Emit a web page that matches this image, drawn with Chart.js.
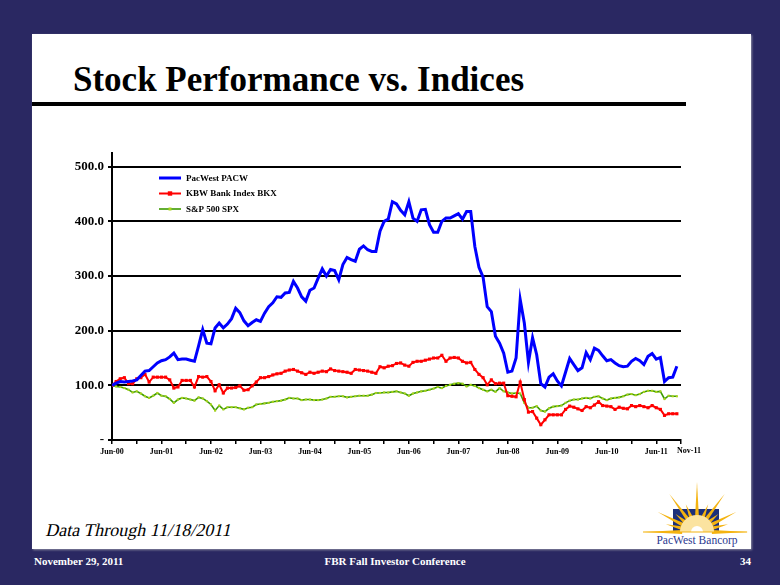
<!DOCTYPE html>
<html>
<head>
<meta charset="utf-8">
<title>Stock Performance vs. Indices</title>
<script src="https://cdn.jsdelivr.net/npm/chart.js@4.4.2/dist/chart.umd.min.js"></script>
<style>
    html, body { margin: 0; padding: 0; }
    body {
        width: 780px; height: 585px; overflow: hidden; position: relative;
        background: #2a2862; font-family: "Liberation Serif", "Times New Roman", serif;
    }
    #panel {
        position: absolute; left: 32px; top: 34px; width: 719px; height: 515px;
        background: #fff; box-shadow: 1px 1px 2px #8a8aa0;
    }
    #title {
        position: absolute; left: 73px; top: 60px; margin: 0;
        font-size: 35px; font-weight: bold; color: #000; white-space: nowrap;
    }
    #rule { position: absolute; left: 32px; top: 102px; width: 654px; height: 4px; background: #000; }
    #through {
        position: absolute; left: 44px; top: 520px;
        font-family: "Liberation Serif", serif; font-size: 18px; font-style: normal;
        transform: skewX(-13deg); transform-origin: left bottom;
        color: #000; white-space: nowrap;
    }
    .foot { position: absolute; top: 555px; font-size: 11px; font-weight: bold; color: #fff; white-space: nowrap; }
    #logo { position: absolute; left: 636px; top: 476px; }
    #chart { position: absolute; left: 0; top: 0; }
</style>
</head>
<body>
<div id="panel"></div>
<h1 id="title">Stock Performance vs. Indices</h1>
<div id="rule"></div>
<div id="through">Data Through 11/18/2011</div>
<div class="foot" style="left:34px">November 29, 2011</div>
<div class="foot" style="left:395px;transform:translateX(-50%)">FBR Fall Investor Conference</div>
<div class="foot" style="left:740px">34</div>
<svg id="logo" width="114" height="72" viewBox="0 0 114 72"></svg>
<canvas id="chart" width="780" height="585"></canvas>

<script>
// Monthly values, indexed from Jun-00 (0) to Nov-11 (137), rebased to 100
const pacw = [
    100, 104, 107, 106, 107, 108, 110, 118, 126, 127, 134, 141,
    145, 147, 152, 159, 147, 148, 148, 146, 144, 172, 202, 177,
    176, 205, 214, 205, 212, 222, 241, 233, 218, 209, 215, 220,
    217, 232, 244, 251, 262, 261, 269, 270, 290, 278, 262, 254,
    274, 278, 296, 313, 300, 312, 310, 293, 321, 334, 330, 327,
    349, 355, 348, 345, 345, 382, 400, 404, 436, 432, 420, 412,
    436, 406, 400, 421, 422, 394, 380, 380, 400, 406, 406, 410,
    414, 404, 418, 418, 354, 316, 298, 244, 235, 190, 177, 159,
    124, 126, 150, 257, 214, 142, 187, 156, 103, 97, 115, 121,
    108, 99, 124, 149, 138, 127, 132, 160, 147, 168, 164, 154,
    145, 147, 141, 136, 134, 135, 144, 149, 145, 138, 153, 158,
    148, 151, 107, 114, 115, 135
];
const bkx = [
    100, 107, 112, 114, 103, 103, 112, 114, 120, 106, 115, 115,
    115, 115, 110, 95, 97, 109, 109, 109, 97, 116, 115, 116,
    107, 90, 101, 86, 95, 95, 96, 99, 91, 92, 99, 106,
    114, 114, 116, 119, 121, 122, 126, 128, 129, 126, 123, 120,
    124, 122, 124, 126, 125, 130, 127, 126, 125, 124, 122, 129,
    128, 127, 126, 124, 122, 134, 132, 135, 136, 140, 141, 137,
    135, 142, 144, 144, 146, 148, 150, 150, 155, 144, 150, 151,
    150, 144, 141, 142, 129, 120, 114, 101, 110, 103, 104, 104,
    81, 80, 79, 106, 74, 51, 52, 40, 28, 37, 46, 46,
    46, 46, 56, 62, 60, 57, 54, 61, 59, 64, 70, 63,
    62, 61, 56, 60, 58, 57, 63, 61, 63, 61, 59, 63,
    59, 56, 45, 48, 48, 48
];
const spx = [
    100, 98, 97, 95, 92, 87, 89, 85, 80, 77, 81, 86,
    81, 80, 75, 68, 74, 77, 76, 74, 72, 78, 76, 71,
    65, 54, 63, 56, 60, 60, 60, 58, 56, 59, 60, 65,
    66, 67, 68, 70, 71, 72, 74, 77, 76, 76, 73, 74,
    74, 73, 73, 74, 76, 79, 79, 80, 80, 78, 79, 80,
    81, 81, 81, 83, 86, 86, 87, 87, 88, 89, 87, 85,
    81, 85, 87, 89, 90, 92, 94, 97, 95, 99, 101, 103,
    104, 103, 98, 101, 99, 95, 92, 89, 92, 88, 95, 89,
    87, 85, 86, 85, 68, 59, 59, 62, 54, 52, 58, 61,
    62, 63, 68, 72, 74, 74, 76, 77, 76, 79, 80, 76,
    73, 76, 77, 78, 80, 83, 84, 82, 84, 88, 90, 90,
    88, 89, 75, 81, 80, 80
];
const seriesNames = ['PacWest PACW', 'KBW Bank Index BKX', 'S&P 500 SPX'];
const xTickLabels = ['Jun-00', 'Jun-01', 'Jun-02', 'Jun-03', 'Jun-04', 'Jun-05',
    'Jun-06', 'Jun-07', 'Jun-08', 'Jun-09', 'Jun-10', 'Jun-11'];
const lastTickLabel = 'Nov-11';
const yTicks = [0, 100, 200, 300, 400, 500];

const FONT = '"Liberation Serif", "Times New Roman", serif';
const X_MAX = 138;

// tick marks every 6 months, plus one at the end of the axis
const xTickValues = [];
for (let m = 0; m <= 132; m += 6) xTickValues.push(m);
xTickValues.push(X_MAX);

const toPoints = arr => arr.map((v, i) => ({ x: i, y: v }));

// legend drawn inside the plot, stacked like the original
const insideLegend = {
    id: 'insideLegend',
    afterDatasetsDraw(chart) {
        const { ctx, chartArea } = chart;
        ctx.save();
        ctx.font = 'bold 9px ' + FONT;
        ctx.textBaseline = 'middle';
        chart.data.datasets.forEach((ds, i) => {
            const x = chartArea.left + 47;
            const y = chartArea.top + 25 + i * 15.5;
            ctx.strokeStyle = ds.borderColor;
            ctx.lineWidth = ds.borderWidth;
            ctx.beginPath();
            ctx.moveTo(x, y);
            ctx.lineTo(x + 22, y);
            ctx.stroke();
            if (ds.pointRadius > 0) {
                const r = ds.pointRadius;
                ctx.fillStyle = ds.pointBackgroundColor;
                ctx.fillRect(x + 11 - r, y - r, r * 2, r * 2);
            }
            ctx.fillStyle = '#000';
            ctx.fillText(ds.label, x + 27, y + 0.5);
        });
        ctx.restore();
    },
    afterDraw(chart) {
        // last label sits a little right of its tick, as in the source
        const xs = chart.scales.x;
        const ctx = chart.ctx;
        ctx.save();
        ctx.font = 'bold 8px ' + FONT;
        ctx.fillStyle = '#000';
        ctx.textAlign = 'center';
        ctx.textBaseline = 'middle';
        ctx.fillText(lastTickLabel, xs.getPixelForValue(X_MAX) + 8, xs.top + 11);
        ctx.restore();
    }
};

new Chart(document.getElementById('chart'), {
    type: 'line',
    data: {
        datasets: [{
            label: seriesNames[0],
            data: toPoints(pacw),
            borderColor: '#0000ff',
            borderWidth: 3,
            pointRadius: 0,
            tension: 0
        }, {
            label: seriesNames[1],
            data: toPoints(bkx),
            borderColor: '#ff0000',
            borderWidth: 2,
            pointStyle: 'rect',
            pointRadius: 2.2,
            pointBorderWidth: 0,
            pointBackgroundColor: '#ff0000',
            tension: 0
        }, {
            label: seriesNames[2],
            data: toPoints(spx),
            borderColor: '#3c9a00',
            borderWidth: 1.6,
            pointStyle: 'rect',
            pointRadius: 1.5,
            pointBorderWidth: 0,
            pointBackgroundColor: '#a8d41c',
            tension: 0
        }]
    },
    options: {
        responsive: false,
        devicePixelRatio: 1,
        animation: false,
        layout: { padding: { left: 52, top: 153, right: 99, bottom: 125 } },
        plugins: { legend: { display: false }, tooltip: { enabled: false } },
        scales: {
            x: {
                type: 'linear',
                min: 0,
                max: X_MAX,
                afterBuildTicks: scale => { scale.ticks = xTickValues.map(v => ({ value: v })); },
                afterFit: scale => { scale.height = 20; },
                grid: { drawOnChartArea: false, drawTicks: true, tickLength: 4, color: '#000', lineWidth: 1.5 },
                border: { color: '#000', width: 2 },
                ticks: {
                    autoSkip: false,
                    maxRotation: 0,
                    padding: 3,
                    color: '#000',
                    font: { family: FONT, size: 8, weight: 'bold' },
                    callback: v => (v % 12 === 0 && v < X_MAX) ? xTickLabels[v / 12] : ''
                }
            },
            y: {
                min: 0,
                max: 525,
                afterBuildTicks: scale => { scale.ticks = yTicks.map(v => ({ value: v })); },
                afterFit: scale => { scale.width = 60; },
                grid: { color: '#000', lineWidth: 2, tickLength: 4 },
                border: { color: '#000', width: 2 },
                ticks: {
                    padding: 4,
                    color: '#000',
                    font: { family: FONT, size: 13, weight: 'bold' },
                    callback: v => v === 0 ? '-' : v.toFixed(1)
                }
            }
        }
    },
    plugins: [insideLegend]
});

// PacWest Bancorp sunburst mark
(function drawLogo() {
    const svg = document.getElementById('logo');
    const ns = 'http://www.w3.org/2000/svg';
    const cx = 61, cy = 56;
    const add = (tag, attrs) => {
        const el = document.createElementNS(ns, tag);
        for (const k in attrs) el.setAttribute(k, attrs[k]);
        svg.appendChild(el);
        return el;
    };
    add('rect', { x: 37, y: 33, width: 46, height: 22, fill: '#1c2f7a' });
    const rays = [[180, 54], [166, 32], [153, 44], [140, 28], [126, 47], [112, 30], [90, 50],
        [68, 30], [54, 47], [40, 28], [27, 44], [14, 32], [0, 52]];
    rays.forEach(([deg, len]) => {
        const a = deg * Math.PI / 180, w = 0.13;
        const p = (ang, r) => `${cx + r * Math.cos(ang)},${cy - r * Math.sin(ang)}`;
        add('polygon', { points: `${p(a - w, 15)} ${p(a, len)} ${p(a + w, 15)}`, fill: '#f4b310' });
    });
    add('path', { d: `M${cx - 17},${cy} A17,17 0 0 1 ${cx + 17},${cy} Z`, fill: '#fbe3a0' });
    add('path', { d: `M${cx - 6},${cy} A6,6 0 0 1 ${cx + 6},${cy} Z`, fill: '#fff' });
    add('line', { x1: 7, y1: cy, x2: 111, y2: cy, stroke: '#f4b310', 'stroke-width': 1.2 });
    const t = add('text', { x: cx, y: 68, 'text-anchor': 'middle', fill: '#2b3990',
        'font-family': FONT, 'font-size': 11.5 });
    t.textContent = 'PacWest Bancorp';
})();
</script>
</body>
</html>
